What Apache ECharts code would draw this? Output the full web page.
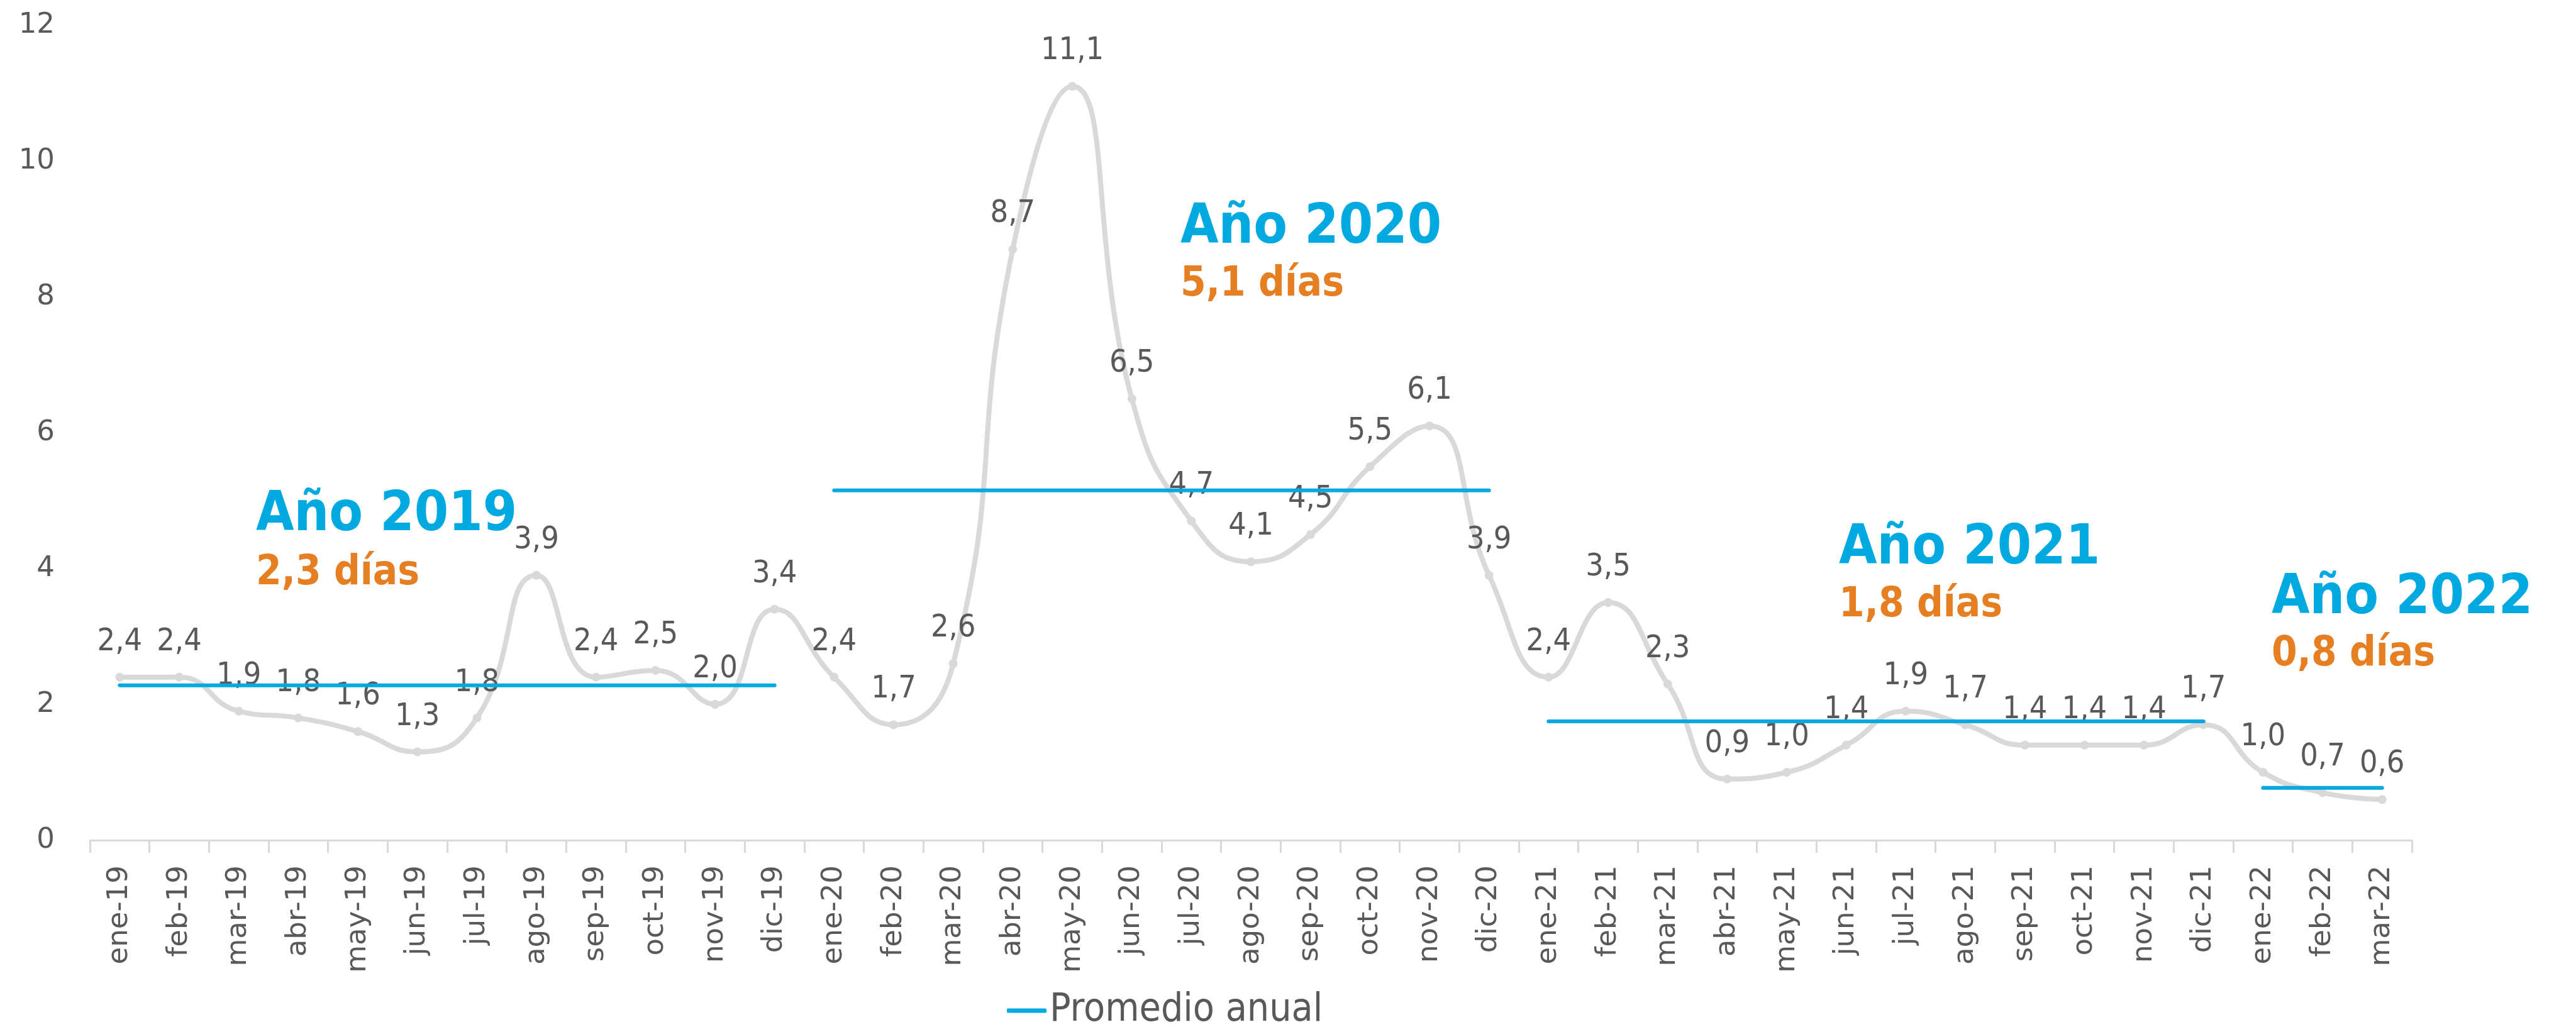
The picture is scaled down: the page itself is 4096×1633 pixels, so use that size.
<!DOCTYPE html>
<html>
<head>
<meta charset="utf-8">
<script src="https://cdn.jsdelivr.net/npm/echarts@6/dist/echarts.min.js"></script>
<style>
  html, body { margin: 0; padding: 0; background: #fff; }
  #chart { width: 4096px; height: 1633px; }
</style>
</head>
<body>
<div id="chart"></div>
<script>
// meses
var months = [
    'ene-19', 'feb-19', 'mar-19', 'abr-19', 'may-19', 'jun-19', 'jul-19', 'ago-19', 'sep-19', 'oct-19', 'nov-19', 'dic-19',
    'ene-20', 'feb-20', 'mar-20', 'abr-20', 'may-20', 'jun-20', 'jul-20', 'ago-20', 'sep-20', 'oct-20', 'nov-20', 'dic-20',
    'ene-21', 'feb-21', 'mar-21', 'abr-21', 'may-21', 'jun-21', 'jul-21', 'ago-21', 'sep-21', 'oct-21', 'nov-21', 'dic-21',
    'ene-22', 'feb-22', 'mar-22'
];
// dias por mes
var days2019 = [2.4, 2.4, 1.9, 1.8, 1.6, 1.3, 1.8, 3.9, 2.4, 2.5, 2.0, 3.4];
var days2020 = [2.4, 1.7, 2.6, 8.7, 11.1, 6.5, 4.7, 4.1, 4.5, 5.5, 6.1, 3.9];
var days2021 = [2.4, 3.5, 2.3, 0.9, 1.0, 1.4, 1.9, 1.7, 1.4, 1.4, 1.4, 1.7];
var days2022 = [1.0, 0.7, 0.6];

// promedio anual
var yearAvg = [2.28, 5.15, 1.75, 0.77];
var yearStart = [0, 12, 24, 36];
var yearLen = [12, 12, 12, 3];

var yearTitles = ['Año 2019', 'Año 2020', 'Año 2021', 'Año 2022'];
var yearNotes = ['2,3 días', '5,1 días', '1,8 días', '0,8 días'];

var yTicks = [0, 2, 4, 6, 8, 10, 12];

// posiciones de los textos (px)
var notePos = [[407, 820, 912], [1877, 363, 453], [2924, 873, 963], [3612, 952, 1041]];

var allDays = days2019.concat(days2020, days2021, days2022);

var gray = '#595959';
var blue = '#00A9E0';
var orange = '#E67E22';

var avgSeries = [];
for (var i = 0; i < yearAvg.length; i++) {
    var d = [];
    for (var j = 0; j < months.length; j++) {
        d.push(j >= yearStart[i] && j < yearStart[i] + yearLen[i] ? yearAvg[i] : null);
    }
    avgSeries.push({
        name: 'Promedio anual',
        type: 'line',
        data: d,
        symbol: 'none',
        z: 3,
        lineStyle: { color: blue, width: 6, cap: 'round' },
        itemStyle: { color: blue },
        silent: true
    });
}

var graphics = [];
for (var k = 0; k < yearTitles.length; k++) {
    graphics.push({
        type: 'text',
        x: notePos[k][0],
        y: notePos[k][1],
        style: {
            text: yearTitles[k],
            fill: blue,
            font: 'bold 87px "DejaVu Sans Condensed", "DejaVu Sans"',
            verticalAlign: 'middle'
        }
    });
    graphics.push({
        type: 'text',
        x: notePos[k][0],
        y: notePos[k][2],
        style: {
            text: yearNotes[k],
            fill: orange,
            font: 'bold 65px "DejaVu Sans Condensed", "DejaVu Sans"',
            verticalAlign: 'middle'
        }
    });
}

var option = {
    animation: false,
    backgroundColor: '#fff',
    grid: {
        left: 143,
        right: 261,
        top: 40,
        bottom: 297,
        containLabel: false
    },
    legend: {
        data: ['Promedio anual'],
        left: 1596,
        top: 1571,
        icon: 'roundRect',
        itemWidth: 63,
        itemHeight: 7,
        textStyle: {
            color: gray,
            fontSize: 62,
            fontFamily: '"DejaVu Sans Condensed", "DejaVu Sans"'
        }
    },
    xAxis: {
        type: 'category',
        data: months,
        boundaryGap: true,
        axisLine: { lineStyle: { color: '#D9D9D9', width: 3 } },
        axisTick: { show: true, length: 20, lineStyle: { color: '#D9D9D9', width: 3 } },
        axisLabel: {
            interval: 0,
            rotate: 90,
            margin: 40,
            color: gray,
            fontSize: 45,
            fontFamily: 'DejaVu Sans'
        }
    },
    yAxis: {
        type: 'value',
        min: yTicks[0],
        max: yTicks[yTicks.length - 1],
        interval: 2,
        axisLine: { show: false },
        axisTick: { show: false },
        splitLine: { show: false },
        axisLabel: {
            margin: 56,
            color: gray,
            fontSize: 45,
            fontFamily: 'DejaVu Sans'
        }
    },
    graphic: graphics,
    series: [{
        name: 'Dias',
        type: 'line',
        data: allDays,
        smooth: 0.5,
        symbol: 'circle',
        symbolSize: 14,
        showAllSymbol: true,
        z: 2,
        lineStyle: { color: '#D9D9D9', width: 8 },
        itemStyle: { color: '#D9D9D9' },
        label: {
            show: true,
            position: 'top',
            distance: 24,
            color: gray,
            fontSize: 50,
            fontFamily: '"DejaVu Sans Condensed", "DejaVu Sans"',
            formatter: function (p) {
                return p.value.toFixed(1).replace('.', ',');
            }
        }
    }].concat(avgSeries)
};

var myChart = echarts.init(document.getElementById('chart'));
myChart.setOption(option);
</script>
</body>
</html>
